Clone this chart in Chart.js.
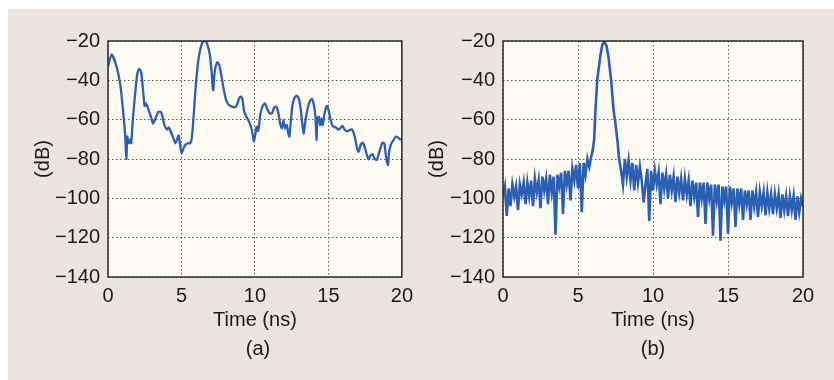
<!DOCTYPE html>
<html>
<head>
<meta charset="utf-8">
<script src="https://cdn.jsdelivr.net/npm/chart.js@4/dist/chart.umd.min.js"></script>
<style>
  body { margin: 0; background: #fff; width: 834px; height: 380px; position: relative; overflow: hidden; }
  .panel { position: absolute; left: 8px; top: 9px; width: 826px; height: 371px; background: #ebe4dd; }
  canvas { position: absolute; top: 0; }
  #chartA { left: 0; }
  #chartB { left: 420px; }
  .tag { position: absolute; top: 337px; font: 20px "Liberation Sans", Arial, sans-serif; color: #1a1a1a; transform: translateX(-50%); }
</style>
</head>
<body>
<div class="panel"></div>
<canvas id="chartA" width="420" height="380"></canvas>
<canvas id="chartB" width="414" height="380"></canvas>
<div class="tag" style="left:258px">(a)</div>
<div class="tag" style="left:653px">(b)</div>
<script>
// axis ticks
const timeTicks = [0, 5, 10, 15, 20];
const levelTicks = [-20, -40, -60, -80, -100, -120, -140];

// (a) measured response
const timeA = [
  0, 0.25, 0.58, 0.85, 1.02, 1.16, 1.25, 1.31, 1.4, 1.5,
  1.58, 1.69, 1.85, 1.98, 2.12, 2.25, 2.36, 2.49, 2.58, 2.69,
  2.8, 2.92, 3.07, 3.25, 3.43, 3.59, 3.7, 3.85, 4.03, 4.14,
  4.32, 4.48, 4.59, 4.7, 4.81, 4.92, 5.01, 5.14, 5.26, 5.43,
  5.59, 5.7, 5.81, 5.97, 6.15, 6.3, 6.46, 6.64, 6.77, 6.93,
  7.04, 7.13, 7.17, 7.22, 7.3, 7.44, 7.57, 7.71, 7.86, 8.04,
  8.22, 8.44, 8.64, 8.77, 8.93, 9.04, 9.15, 9.27, 9.42, 9.6,
  9.76, 9.87, 9.93, 10.02, 10.11, 10.2, 10.27, 10.38, 10.53, 10.67,
  10.82, 11.0, 11.16, 11.31, 11.45, 11.6, 11.71, 11.83, 11.94, 12.05,
  12.16, 12.27, 12.34, 12.43, 12.54, 12.67, 12.83, 12.98, 13.12, 13.23,
  13.32, 13.41, 13.54, 13.72, 13.88, 14.01, 14.12, 14.19, 14.25, 14.34,
  14.43, 14.52, 14.61, 14.72, 14.88, 15.01, 15.12, 15.28, 15.5, 15.72,
  15.95, 16.12, 16.28, 16.44, 16.61, 16.73, 16.84, 16.95, 17.06, 17.19,
  17.33, 17.46, 17.62, 17.73, 17.88, 18.02, 18.13, 18.29, 18.44, 18.57,
  18.69, 18.8, 18.89, 18.98, 19.06, 19.13, 19.24, 19.4, 19.58, 19.73,
  19.87, 20
];
const levelA = [
  -33, -26.8, -33, -43, -55, -67, -80, -68.6, -72, -70,
  -72, -60, -46.6, -37.3, -34.2, -35.6, -43, -53, -51.7, -53.4,
  -56, -58.5, -62, -59, -56, -56, -58, -63, -65, -64,
  -67, -70, -72, -70, -68, -73.7, -77, -74.6, -72.9, -72,
  -72, -69.5, -60, -43, -29.7, -23.7, -20.3, -20, -22, -27,
  -34.7, -44, -45, -39, -34, -30.8, -32.2, -37.3, -44, -50,
  -52.5, -53.4, -53.7, -52.5, -49, -48.3, -49.7, -56, -58.5, -61,
  -64.4, -68.6, -71, -67.8, -63.6, -66, -63.6, -56.8, -53, -51.7,
  -54.2, -56.8, -56.8, -53.7, -53.4, -56.8, -61.9, -64.4, -60.2, -64.4,
  -62.7, -67, -68.6, -61.9, -53.4, -49.2, -47.8, -49.2, -55, -62.7,
  -67, -61.9, -56, -50.8, -49.5, -52.5, -58.5, -70.3, -59.3, -58.5,
  -62.7, -59.3, -62.7, -57.6, -53, -55, -59.3, -63.2, -64, -65,
  -63.2, -65.3, -66, -65.3, -65, -67, -70.3, -74.6, -76.3, -72.9,
  -71.7, -73.7, -78, -80.2, -78, -77.6, -79.7, -80.5, -77, -73.7,
  -71.7, -72, -77, -81.4, -83, -76.3, -72.9, -70.7, -68.6, -69,
  -70, -70
];

// (b) compressed pulse
const timeB = [
  0, 0.125, 0.25, 0.375, 0.5, 0.625, 0.75, 0.875,
  1, 1.125, 1.25, 1.375, 1.5, 1.625, 1.75, 1.875,
  2, 2.125, 2.25, 2.375, 2.5, 2.625, 2.75, 2.875,
  3, 3.125, 3.25, 3.375, 3.5, 3.625, 3.75, 3.875,
  4, 4.125, 4.25, 4.375, 4.5, 4.625, 4.75, 4.875,
  5, 5.125, 5.25, 5.375, 5.5, 5.625, 5.75, 5.875,
  5.97, 6.08, 6.15, 6.28, 6.48, 6.62, 6.76, 6.9, 7.03, 7.21, 7.37, 7.52, 7.65, 7.74,
  7.875,
  8, 8.125, 8.25, 8.375, 8.5, 8.625, 8.75, 8.875,
  9, 9.125, 9.25, 9.375, 9.5, 9.625, 9.75, 9.875,
  10, 10.125, 10.25, 10.375, 10.5, 10.625, 10.75, 10.875,
  11, 11.125, 11.25, 11.375, 11.5, 11.625, 11.75, 11.875,
  12, 12.125, 12.25, 12.375, 12.5, 12.625, 12.75, 12.875,
  13, 13.125, 13.25, 13.375, 13.5, 13.625, 13.75, 13.875,
  14, 14.125, 14.25, 14.375, 14.5, 14.625, 14.75, 14.875,
  15, 15.125, 15.25, 15.375, 15.5, 15.625, 15.75, 15.875,
  16, 16.125, 16.25, 16.375, 16.5, 16.625, 16.75, 16.875,
  17, 17.125, 17.25, 17.375, 17.5, 17.625, 17.75, 17.875,
  18, 18.125, 18.25, 18.375, 18.5, 18.625, 18.75, 18.875,
  19, 19.125, 19.25, 19.375, 19.5, 19.625, 19.75, 19.875,
  20
];
const levelB = [
  -99, -94, -109, -95, -104, -93, -99, -94,
  -106, -93, -98, -92, -103, -92, -99, -91,
  -104, -90, -97, -91, -105, -89, -96, -90,
  -103, -88, -97, -89, -118.5, -88, -94, -87,
  -108, -86, -93, -86, -101, -85, -91, -83,
  -95, -82, -107, -82, -88, -80, -84, -79,
  -76, -70, -57, -40, -28, -22, -20.2, -22.5, -28, -40, -55, -63.5, -72, -80,
  -86,
  -93, -80, -89, -81, -91, -82, -96, -83,
  -92, -84, -91, -102, -93, -85, -111.5, -86,
  -96, -86, -93, -87, -103, -87, -95, -88,
  -100, -88, -96, -89, -102, -89, -97, -90,
  -101, -90, -98, -91, -104, -91, -99, -92,
  -109.5, -92, -100, -92, -113, -92, -100, -93,
  -119, -93, -101, -93, -121.5, -94, -101, -94,
  -118, -94, -102, -95, -114.5, -95, -103, -95,
  -111, -96, -103, -96, -111, -96, -104, -97,
  -109.5, -97, -104, -97, -108.5, -97, -105, -98,
  -108, -98, -105, -98, -110, -98, -106, -99,
  -109, -99, -106, -99, -111, -99, -107, -100,
  -104
];

const FONT = '"Liberation Sans", Arial, sans-serif';
const INK = '#1a1a1a';

// cream plot area with a closed box around it
const axisBox = {
  id: 'axisBox',
  beforeDraw(chart) {
    const { ctx, chartArea: a } = chart;
    ctx.save();
    ctx.fillStyle = '#fdfbf1';
    ctx.fillRect(a.left, a.top, a.right - a.left, a.bottom - a.top);
    ctx.restore();
  },
  afterDraw(chart) {
    const { ctx, chartArea: a } = chart;
    ctx.save();
    ctx.strokeStyle = '#2b2b2b';
    ctx.lineWidth = 1.5;
    ctx.strokeRect(a.left, a.top, a.right - a.left, a.bottom - a.top);
    ctx.restore();
  }
};

function minus(v) {
  return v < 0 ? '\u2212' + Math.abs(v) : String(v);
}

function makeChart(id, times, levels, yWidth, padRight, titlePad, tension, lineWidth) {
  const points = times.map((t, i) => ({ x: t, y: levels[i] }));
  return new Chart(document.getElementById(id), {
    type: 'line',
    data: {
      datasets: [{
        data: points,
        borderColor: '#2b5fb3',
        borderWidth: lineWidth,
        pointRadius: 0,
        tension: tension,
        fill: false
      }]
    },
    options: {
      responsive: false,
      animation: false,
      layout: { padding: { left: 0, top: 41, right: padRight, bottom: 0 } },
      plugins: { legend: { display: false }, tooltip: { enabled: false } },
      scales: {
        x: {
          type: 'linear',
          min: 0,
          max: 20,
          afterBuildTicks: s => { s.ticks = timeTicks.map(v => ({ value: v })); },
          afterFit: s => { s.height = 103; },
          grid: { color: '#555', lineWidth: 1, drawTicks: false },
          border: { display: false, dash: [1.5, 2.5] },
          ticks: { padding: 7, color: INK, font: { family: FONT, size: 20 }, maxRotation: 0 },
          title: {
            display: true,
            text: 'Time (ns)',
            color: INK,
            font: { family: FONT, size: 20 },
            padding: { top: 0, bottom: 48 }
          }
        },
        y: {
          min: -140,
          max: -20,
          afterBuildTicks: s => { s.ticks = levelTicks.map(v => ({ value: v })); },
          afterFit: s => { s.width = yWidth; },
          grid: { color: '#555', lineWidth: 1, drawTicks: false },
          border: { display: false, dash: [1.5, 2.5] },
          ticks: { padding: 8, color: INK, font: { family: FONT, size: 20 }, callback: v => minus(v) },
          title: {
            display: true,
            text: '(dB)',
            color: INK,
            font: { family: FONT, size: 20 },
            padding: { top: titlePad, bottom: 0 }
          }
        }
      }
    },
    plugins: [axisBox]
  });
}

makeChart('chartA', timeA, levelA, 108, 13, 31, 0.2, 2.3);
makeChart('chartB', timeB, levelB, 83, 31, 5, 0, 2.6);
</script>
</body>
</html>
